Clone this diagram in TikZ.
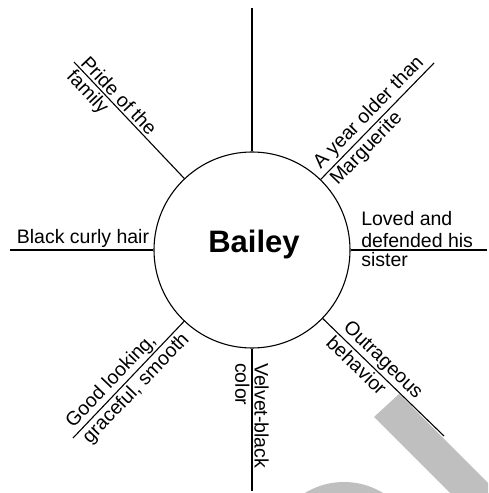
\documentclass[tikz,border=0pt]{standalone}
\usepackage{fontspec}
\setmainfont{Liberation Sans}

\begin{document}
\begin{tikzpicture}[x=1pt,y=1pt,
  spoke/.style={line width=1.1pt},
  hub/.style={circle, draw, line width=1.1pt, minimum size=196pt, inner sep=0pt},
  note/.style={font=\fontsize{19.5}{22}\selectfont, inner sep=2pt},
  greyband/.style={fill=gray!50}]
\useasboundingbox (0,0) rectangle (488,493);

% Grey marks at the lower right
\begin{scope}
  \clip (0,0) rectangle (488,493);
  \fill[greyband] (399,99) -- (374,76) -- (450,0) -- (488,0) -- (488,10) -- cycle;
  \fill[greyband] (344,-64) circle (75);
\end{scope}

% Centre circle
\node[hub] (bailey) at (252,243) {};
\node[font=\bfseries\fontsize{31}{31}\selectfont] (name) at (254,249) {Bailey};

% Free ends of the spokes
\coordinate (topEnd) at (252,485);
\coordinate (yearEnd) at (434,430);
\coordinate (lovedEnd) at (487,243);
\coordinate (behaviorEnd) at (444,57);
\coordinate (velvetEnd) at (252,2);
\coordinate (lookEnd) at (73,55);
\coordinate (hairEnd) at (10,243);
\coordinate (prideEnd) at (74,431);

% Spokes and their notes
\draw[spoke] (bailey) -- (topEnd);

\draw[spoke] (bailey) -- (yearEnd)
  node[note, pos=0.5, rotate=45.8, anchor=south] (year) {A year older than}
  node[note, pos=0.03, rotate=45.8, anchor=north west] (marguerite) {Marguerite};

\draw[spoke] (bailey) -- (lovedEnd)
  node[note, pos=0.06, anchor=south west, align=left] (loved) {Loved and\\defended his}
  node[note, pos=0.06, anchor=north west] (sister) {sister};

\draw[spoke] (bailey) -- (behaviorEnd)
  node[note, pos=0.11, rotate=-44.1, anchor=south west] (outrageous) {Outrageous}
  node[note, pos=0.1, rotate=-44.1, anchor=north west] (behavior) {behavior};

\draw[spoke] (bailey) -- (velvetEnd)
  node[note, pos=0.085, rotate=-90, anchor=south west] (velvet) {Velvet-black}
  node[note, pos=0.085, rotate=-90, anchor=north west] (color) {color};

\draw[spoke] (lookEnd) -- (bailey)
  node[note, pos=0.03, rotate=46.2, anchor=south west] (looking) {Good looking,}
  node[note, pos=0.03, rotate=46.2, anchor=north west] (graceful) {graceful, smooth};

\draw[spoke] (hairEnd) -- (bailey)
  node[note, pos=0.03, anchor=south west] (hair) {Black curly hair};

\draw[spoke] (prideEnd) -- (bailey)
  node[note, pos=0.02, rotate=-46.5, anchor=south west] (pride) {Pride of the}
  node[note, pos=0.02, rotate=-46.5, anchor=north west] (family) {family};

\end{tikzpicture}
\end{document}
